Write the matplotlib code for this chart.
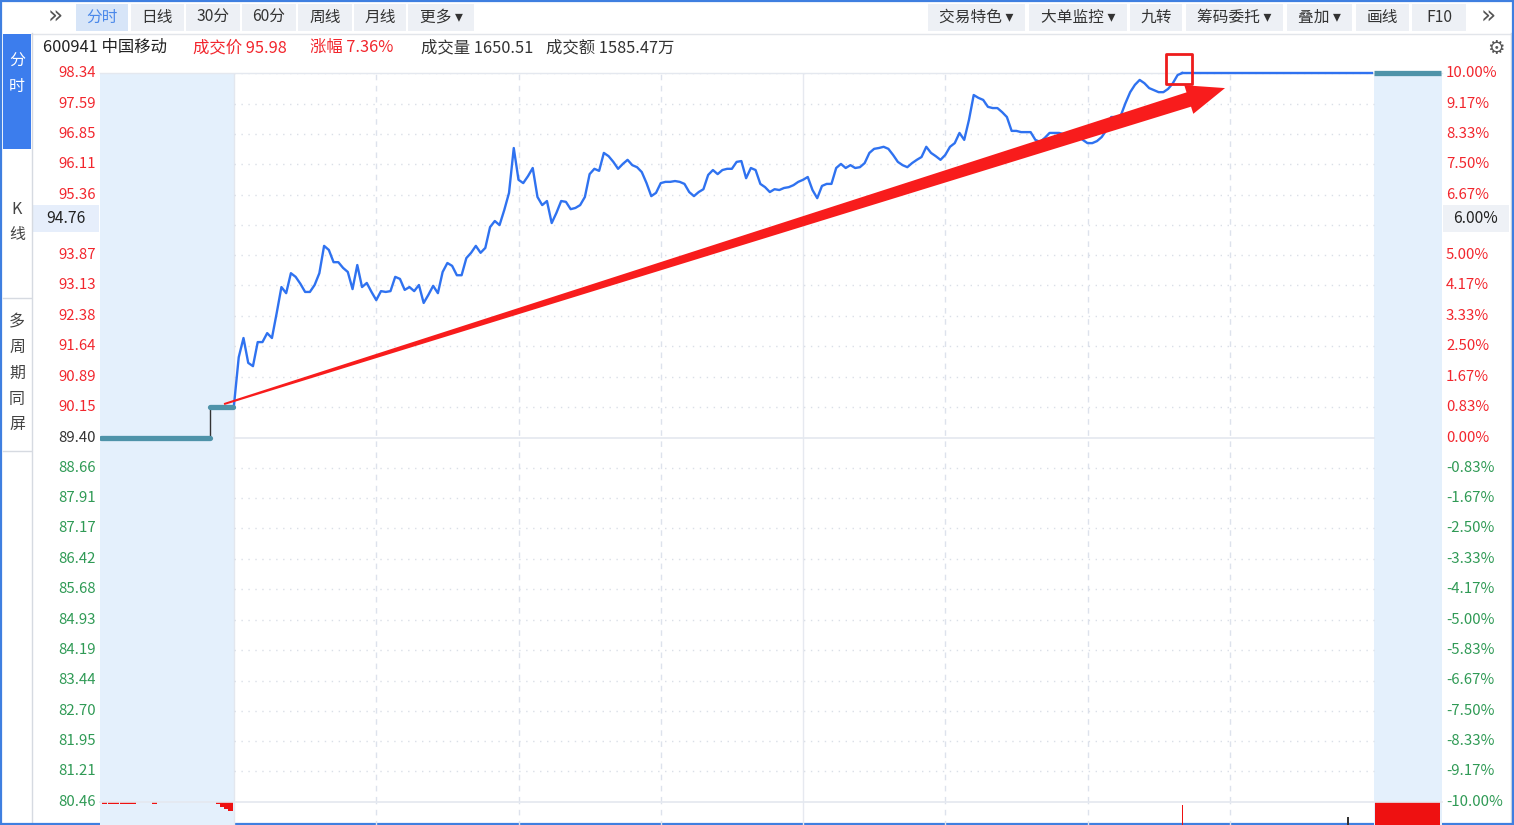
import numpy as np
import matplotlib
matplotlib.use('Agg')
import matplotlib.pyplot as plt
import matplotlib.transforms as mtransforms
from matplotlib.patches import Rectangle, Polygon

plt.rcParams['font.family'] = ['Noto Sans CJK SC', 'DejaVu Sans']

# ---------------- data ----------------
prev_close = 89.40
limit_up = 98.34
limit_down = 80.46
crosshair_price = 94.76
crosshair_pct = "6.00%"

up_ticks = [98.34, 97.59, 96.85, 96.11, 95.36, 93.87, 93.13, 92.38, 91.64, 90.89, 90.15]
up_pcts = ["10.00%", "9.17%", "8.33%", "7.50%", "6.67%", "5.00%", "4.17%", "3.33%", "2.50%", "1.67%", "0.83%"]
down_ticks = [88.66, 87.91, 87.17, 86.42, 85.68, 84.93, 84.19, 83.44, 82.70, 81.95, 81.21, 80.46]
down_pcts = ["-0.83%", "-1.67%", "-2.50%", "-3.33%", "-4.17%", "-5.00%", "-5.83%", "-6.67%",
             "-7.50%", "-8.33%", "-9.17%", "-10.00%"]
grid_prices = [98.34, 97.59, 96.85, 96.11, 95.36, 94.62, 93.87, 93.13, 92.38, 91.64, 90.89, 90.15,
               88.66, 87.91, 87.17, 86.42, 85.68, 84.93, 84.19, 83.44, 82.70, 81.95, 81.21]

# intraday 1-minute prices, minute 0 (09:30) .. 200 (limit up reached)
intraday_prices = [
    90.20, 91.37, 91.84, 91.23, 91.15, 91.74, 91.74, 91.96, 91.84, 92.45,
    93.09, 92.94, 93.43, 93.34, 93.17, 92.97, 92.97, 93.14, 93.43, 94.10,
    94.00, 93.70, 93.70, 93.56, 93.46, 93.04, 93.63, 93.09, 93.19, 92.97,
    92.77, 92.99, 92.97, 92.99, 93.34, 93.29, 93.02, 93.09, 92.99, 93.14,
    92.70, 92.90, 93.12, 92.94, 93.46, 93.68, 93.61, 93.38, 93.38, 93.80,
    93.93, 94.10, 93.93, 94.05, 94.56, 94.71, 94.61, 94.98, 95.40, 96.50,
    95.72, 95.64, 95.81, 96.01, 95.30, 95.10, 95.20, 94.66, 94.91, 95.20,
    95.18, 95.00, 95.03, 95.10, 95.30, 95.86, 95.99, 95.94, 96.38, 96.30,
    96.16, 95.99, 96.11, 96.21, 96.08, 96.03, 95.91, 95.64, 95.32, 95.40,
    95.64, 95.67, 95.67, 95.69, 95.67, 95.62, 95.42, 95.32, 95.42, 95.49,
    95.84, 95.96, 95.86, 95.96, 95.99, 95.99, 96.16, 96.18, 95.76, 96.01,
    95.96, 95.62, 95.54, 95.42, 95.49, 95.47, 95.52, 95.54, 95.59, 95.67,
    95.72, 95.79, 95.47, 95.27, 95.57, 95.62, 95.62, 96.01, 96.11, 96.01,
    96.08, 96.01, 96.03, 96.13, 96.38, 96.48, 96.50, 96.53, 96.48, 96.33,
    96.16, 96.08, 96.03, 96.13, 96.21, 96.28, 96.53, 96.38, 96.30, 96.21,
    96.33, 96.53, 96.62, 96.87, 96.70, 97.19, 97.80, 97.73, 97.68, 97.51,
    97.48, 97.48, 97.38, 97.26, 96.92, 96.92, 96.89, 96.89, 96.89, 96.70,
    96.65, 96.75, 96.87, 96.87, 96.87, 96.84, 96.84, 96.82, 96.79, 96.70,
    96.62, 96.62, 96.67, 96.77, 96.94, 97.26, 97.26, 97.29, 97.60, 97.87,
    98.05, 98.17, 98.09, 97.97, 97.92, 97.87, 97.87, 97.95, 98.09, 98.29,
    98.34,
]
limit_hold_start = 200
session_end = 240

# call auction (before 09:30) and after-hours segments
auction_start = [-28.0, -5.1]
auction_end = [-5.1, -0.3]
auction_price = [89.40, 90.15]
post_start = 240.4
post_end = 254.5
post_price = 98.34

# volume (bottom pane, mostly cut off)
vol_minutes = [200, 235]
vol_values = [95, 74]
vol_colors = ['#ee1111', '#333333']
post_volume = 100
auction_vol_minutes = [-27.3, -26.1, -24.9, -23.4, -22.3, -21.2, -16.7, -3.2, -2.3, -1.5, -0.7]
auction_vol_values = [3, 3, 3, 4, 3, 3, 3, 4, 8, 12, 16]

# annotation (hand-drawn red arrow & box in the original)
arrow_tail = (-2.1, 90.22)
arrow_tip = (209.0, 97.97)
box_min = (196.5, 98.07)
box_size = (5.6, 0.74)

# ---------------- figure ----------------
W, H = 1514, 825
fig = plt.figure(figsize=(W / 100, H / 100), dpi=100)
fig.patch.set_facecolor('white')

ui = fig.add_axes([0, 0, 1, 1])
ui.set_xlim(0, W)
ui.set_ylim(H, 0)
ui.axis('off')
ui.set_zorder(0)

ax = fig.add_axes([100 / W, 1 - 802 / H, 1342 / W, 729 / H])
vax = fig.add_axes([100 / W, 1 - 860 / H, 1342 / W, 58 / H])
for a in (ax, vax):
    a.set_facecolor('none')
    for s in a.spines.values():
        s.set_visible(False)
    a.set_xticks([])
    a.set_yticks([])
    a.set_xlim(-28.26, 254.76)
ax.set_zorder(3)
vax.set_zorder(2)
ax.set_ylim(limit_down, limit_up)
vax.set_ylim(0, 100)

shade = '#e4f0fc'
for a in (ax, vax):
    a.axvspan(-28.26, 0, color=shade, zorder=0, lw=0)
    a.axvspan(post_start, 254.76, color=shade, zorder=0, lw=0)
    for m in [30, 60, 90, 150, 180, 210]:
        a.axvline(m, color='#dde2ec', lw=1, ls=(0, (4, 4)), zorder=1)
    a.axvline(120, color='#e6e9f0', lw=1, zorder=1)
    a.axvline(0, color='#e3e7ee', lw=1, zorder=1)

# horizontal grid
for p in grid_prices:
    ax.plot([0, post_start], [p, p], color='#dadfe7', lw=1, ls=(0, (1, 4)), zorder=1)
ax.plot([-28.26, 254.76], [limit_up, limit_up], color='#e4e8ef', lw=1, zorder=1, clip_on=False)
ax.plot([0, post_start], [prev_close, prev_close], color='#e4e8ef', lw=1.2, zorder=1)
ax.plot([-28.26, 254.76], [limit_down, limit_down], color='#e4e8ef', lw=1.2, zorder=1, clip_on=False)

# price line
minutes = np.arange(len(intraday_prices))
ax.plot(minutes, intraday_prices, color='#2f72f0', lw=1.7, zorder=4, clip_on=False,
        solid_joinstyle='round')
ax.plot([limit_hold_start, session_end], [limit_up, limit_up], color='#2f72f0', lw=1.7,
        zorder=4, clip_on=False)

# auction & post-market
ax.vlines(auction_end[0], auction_price[0], auction_price[1], color='#333333', lw=1, zorder=4)
ax.hlines(auction_price, auction_start, auction_end, color='#4e93a9', lw=3.8, zorder=5,
          capstyle='round')
ax.hlines([post_price], [post_start], [post_end], color='#4e93a9', lw=3.8, zorder=5, clip_on=False)

# volume
vax.bar(vol_minutes, vol_values, width=0.35, color=vol_colors, zorder=3)
vax.bar([(post_start + post_end) / 2], [post_volume], width=post_end - post_start - 0.3,
        color='#ee1111', zorder=3)
vax.bar(auction_vol_minutes, auction_vol_values, bottom=[100 - v for v in auction_vol_values],
        width=1.1, color='#ee1111', zorder=3)

# tick labels
red, green, dark = '#f2262d', '#2f9a55', '#333333'
lt = mtransforms.offset_copy(ax.get_yaxis_transform(), fig=fig, x=-4, y=0, units='dots')
rt = mtransforms.offset_copy(ax.get_yaxis_transform(), fig=fig, x=4, y=0, units='dots')
fs = 10.8
for p, pc in zip(up_ticks, up_pcts):
    ax.text(0, p, f"{p:.2f}", transform=lt, ha='right', va='center', color=red, fontsize=fs)
    ax.text(1, p, pc, transform=rt, ha='left', va='center', color=red, fontsize=fs)
for p, pc in zip(down_ticks, down_pcts):
    ax.text(0, p, f"{p:.2f}", transform=lt, ha='right', va='center', color=green, fontsize=fs)
    ax.text(1, p, pc, transform=rt, ha='left', va='center', color=green, fontsize=fs)
ax.text(0, prev_close, f"{prev_close:.2f}", transform=lt, ha='right', va='center', color=dark, fontsize=fs)
ax.text(1, prev_close, "0.00%", transform=rt, ha='left', va='center', color=red, fontsize=fs)

# crosshair labels
ui.add_patch(Rectangle((33, 205), 66, 27, color='#e6eefb', lw=0, zorder=1))
ui.add_patch(Rectangle((1443, 205), 66, 27, color='#eef1f6', lw=0, zorder=1))
ct_l = mtransforms.offset_copy(ax.get_yaxis_transform(), fig=fig, x=-34, y=0, units='dots')
ct_r = mtransforms.offset_copy(ax.get_yaxis_transform(), fig=fig, x=33, y=0, units='dots')
ax.text(0, crosshair_price, f"{crosshair_price:.2f}", transform=ct_l, ha='center', va='center',
        color='#222222', fontsize=11.3)
ax.text(1, crosshair_price, crosshair_pct, transform=ct_r, ha='center', va='center',
        color='#222222', fontsize=11.3)

# annotation arrow
tail = ax.transData.transform(arrow_tail)
tip = ax.transData.transform(arrow_tip)
d = tip - tail
L = np.hypot(*d)
u = d / L
n = np.array([-u[1], u[0]])
head_len, head_w, neck_w, tail_w = 38, 15, 7.5, 1.0
neck = tip - u * head_len
pts = np.array([tail + n * tail_w, neck + n * neck_w, neck + n * head_w, tip,
                neck - n * head_w, neck - n * neck_w, tail - n * tail_w])
pts_data = ax.transData.inverted().transform(pts)
ax.add_patch(Polygon(pts_data, closed=True, facecolor='#f81c1c', edgecolor='none',
                     zorder=6, clip_on=False))
ax.add_patch(Rectangle(box_min, box_size[0], box_size[1], fill=False, edgecolor='#ee1c1c',
                       lw=2, joinstyle='round', zorder=7, clip_on=False))

# ---------------- UI chrome ----------------
ui.add_patch(Rectangle((0.8, 0.8), W - 1.6, H - 1.6, fill=False, edgecolor='#3f7fe0', lw=1.6, zorder=10))
ui.plot([31, 1511], [33.5, 33.5], color='#e2e5ea', lw=1, zorder=2)
ui.plot([31.5, 31.5], [33, H], color='#d6dae1', lw=1, zorder=2)
ui.add_patch(Rectangle((3, 34), 28, 115, color='#3c7ded', lw=0, zorder=2))
cfs = 11.5
ui.text(17, 61, "分", color='white', fontsize=cfs, ha='center', va='center', zorder=3)
ui.text(17, 86, "时", color='white', fontsize=cfs, ha='center', va='center', zorder=3)
ui.text(17, 210, "K", color='#444444', fontsize=cfs, ha='center', va='center', zorder=3)
ui.text(17, 235, "线", color='#444444', fontsize=cfs, ha='center', va='center', zorder=3)
for i, ch in enumerate("多周期同屏"):
    ui.text(17, 322 + 25.7 * i, ch, color='#444444', fontsize=cfs, ha='center', va='center', zorder=3)
for yy in [297.5, 450.5]:
    ui.plot([3, 31], [yy, yy], color='#d6dae1', lw=1, zorder=2)
ui.plot([1510.5, 1510.5], [33, H], color='#d6dae1', lw=1, zorder=2)

# toolbar buttons
btn_bg = '#edf0f5'
left_btns = [("分时", 76, 128), ("日线", 131, 184), ("30分", 186, 240), ("60分", 242, 296),
             ("周线", 298, 352), ("月线", 354, 406), ("更多 ▾", 408, 474)]
right_btns = [("交易特色 ▾", 928, 1025), ("大单监控 ▾", 1029, 1127), ("九转", 1130, 1182),
              ("筹码委托 ▾", 1186, 1283), ("叠加 ▾", 1287, 1352), ("画线", 1356, 1409),
              ("F10", 1412, 1466)]
for label, x0, x1 in left_btns + right_btns:
    active = label == "分时"
    ui.add_patch(Rectangle((x0, 4), x1 - x0, 27, color='#d7e5f8' if active else btn_bg, lw=0, zorder=2))
    ui.text((x0 + x1) / 2, 17.5, label, color='#4a88ea' if active else '#333333', fontsize=11.3,
            ha='center', va='center', zorder=3)
ui.text(55, 17, "»", color='#555555', fontsize=18, ha='center', va='center', zorder=3,
        family='DejaVu Sans')
ui.text(1488, 17, "»", color='#555555', fontsize=18, ha='center', va='center', zorder=3,
        family='DejaVu Sans')

# info line
info = [("600941 中国移动", 43, '#222222'), ("成交价 95.98", 193, red), ("涨幅 7.36%", 310, red),
        ("成交量 1650.51", 421, '#333333'), ("成交额 1585.47万", 546, '#333333')]
for txt, x0, col in info:
    ui.text(x0, 47.5, txt, color=col, fontsize=11.8, ha='left', va='center', zorder=3)
ui.text(1496, 48, "⚙", color='#555555', fontsize=14, ha='center', va='center', zorder=3,
        family='DejaVu Sans')

fig.savefig('out.png', dpi=100)
